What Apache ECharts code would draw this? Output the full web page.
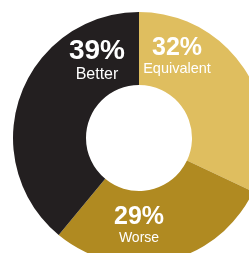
<!DOCTYPE html>
<html>
	<head>
		<meta charset="UTF-8">
		<script type="text/javascript" src="https://cdn.jsdelivr.net/npm/echarts@6/dist/echarts.min.js"></script>
		<style type="text/css">
			html, body {
				margin: 0;
				padding: 0;
				background: #fff;
			}
			#chart {
				width: 249px;
				height: 253px;
			}
		</style>
	</head>
	<body>
		<div id="chart"></div>
		<script type="text/javascript">
			// data (clockwise from 12 o'clock)
			var categories = ['Equivalent', 'Worse', 'Better'];
			var shares = [32, 29, 39];

			// look
			var colors = ['#dfbe5f', '#b08a21', '#231f20'];
			var labelAt = [[177, 56], [139, 225], [97, 60]]; // label block centres
			var bigFont = [25, 25, 28];
			var smallFont = [14.5, 14, 16];

			var chart = echarts.init(document.getElementById('chart'));

			var dt = [];
			for(var i = 0; i < categories.length; i++) {
				dt.push({
					name: categories[i],
					value: shares[i],
					itemStyle: { color: colors[i] },
					label: {
						rich: {
							p: { fontSize: bigFont[i], fontWeight: 'bold', color: '#fff', lineHeight: bigFont[i] + 1, fontFamily: 'Liberation Sans' },
							n: { fontSize: smallFont[i], color: '#fff', lineHeight: smallFont[i] + 2, fontFamily: 'Liberation Sans' }
						}
					}
				});
			}

			var op = {
				animation: false,
				series: [{
					type: 'pie',
					center: [139, 138],
					radius: [53, 126],
					startAngle: 90,
					clockwise: true,
					silent: true,
					itemStyle: { borderWidth: 0 },
					label: {
						show: true,
						position: 'inside',
						align: 'center',
						verticalAlign: 'middle',
						formatter: function(p) {
							return '{p|' + p.value + '%}\n{n|' + p.name + '}';
						}
					},
					labelLine: { show: false },
					labelLayout: function(params) {
						var pos = labelAt[params.dataIndex];
						return { x: pos[0], y: pos[1], align: 'center', verticalAlign: 'middle' };
					},
					data: dt
				}]
			};
			chart.setOption(op);
		</script>
	</body>
</html>
